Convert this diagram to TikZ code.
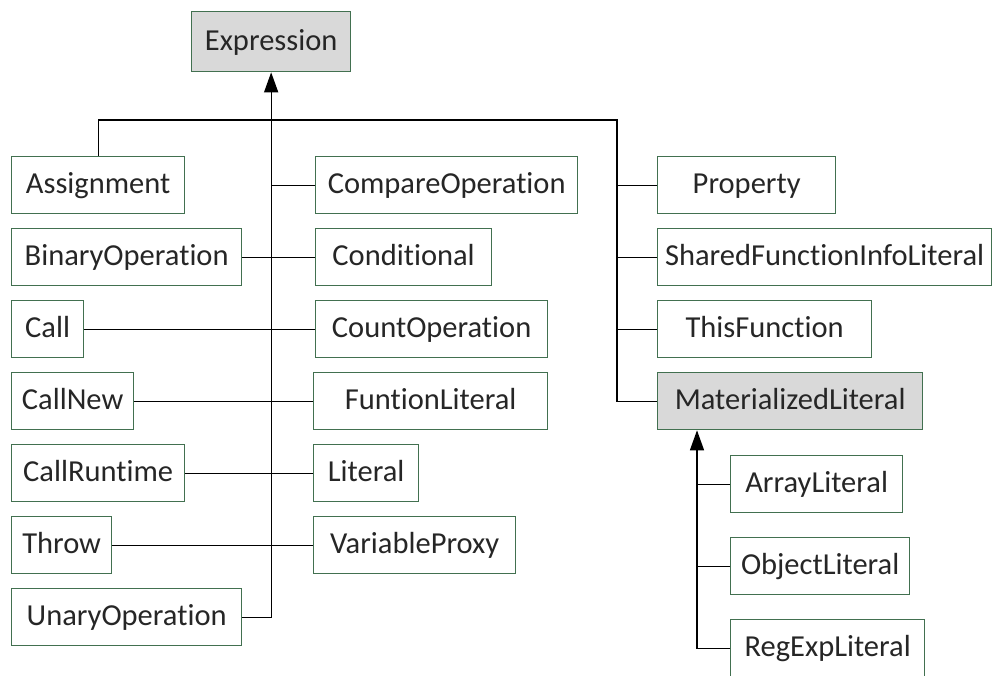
\documentclass[tikz,border=0pt]{standalone}
\usepackage{fontspec}
\setmainfont{Carlito}[RawFeature={-liga;-clig;-dlig}]
\usetikzlibrary{arrows.meta,calc}
\definecolor{boxline}{RGB}{66,112,80}
\definecolor{boxgray}{RGB}{217,217,217}
\definecolor{txt}{RGB}{38,38,38}
\begin{document}
\begin{tikzpicture}[x=1pt,y=-1pt,
  cls/.style={draw=boxline, line width=1.3pt, fill=white, anchor=north west,
    minimum height=57pt, inner sep=0pt, text=txt,
    font=\fontsize{30.5}{36}\selectfont, text height=17pt, text depth=0pt},
  abstract/.style={cls, fill=boxgray},
  link/.style={draw=black, line width=1.3pt},
  inherit/.style={link, -{Triangle[length=20pt,width=14pt]}}]
\useasboundingbox (0,0) rectangle (996,675);

% root class
\node[abstract, minimum width=159pt, minimum height=60pt] (expr) at (191,11) {Expression};

% left column
\node[cls, minimum width=173pt] (assign)  at (11,156) {Assignment};
\node[cls, minimum width=230pt] (binop)   at (11,228) {BinaryOperation};
\node[cls, minimum width=72pt]  (call)    at (11,300) {Call};
\node[cls, minimum width=122pt] (callnew) at (11,372) {CallNew};
\node[cls, minimum width=173pt] (callrt)  at (11,444) {CallRuntime};
\node[cls, minimum width=100pt] (throw)   at (11,516) {Throw};
\node[cls, minimum width=230pt] (unop)    at (11,588) {UnaryOperation};

% middle column
\node[cls, minimum width=262pt] (cmpop)   at (315,156) {CompareOperation};
\node[cls, minimum width=176pt] (cond)    at (315,228) {Conditional};
\node[cls, minimum width=232pt] (countop) at (315,300) {CountOperation};
\node[cls, minimum width=234pt] (funlit)  at (313,372) {FuntionLiteral};
\node[cls, minimum width=105pt] (literal) at (313,444) {Literal};
\node[cls, minimum width=202pt] (varprox) at (313,516) {VariableProxy};

% right column
\node[cls, minimum width=178pt] (prop)    at (657,156) {Property};
\node[cls, minimum width=334pt] (shared)  at (657,228) {SharedFunctionInfoLiteral};
\node[cls, minimum width=214pt] (thisfn)  at (657,300) {ThisFunction};
\node[abstract, minimum width=265pt] (matlit) at (657,372) {MaterializedLiteral};

% subclasses of MaterializedLiteral
\node[cls, minimum width=172pt] (arrlit)  at (730,455) {ArrayLiteral};
\node[cls, minimum width=179pt] (objlit)  at (730,537) {ObjectLiteral};
\node[cls, minimum width=194pt] (relit)   at (730,619) {RegExpLiteral};

% trunk junctions
\coordinate (rtrunk) at (617,120);
\coordinate (mtrunk) at ($(matlit.south west)+(40,0)$);

% central trunk up to Expression
\draw[inherit] (unop.east) -| (expr.south);
\draw[link] (cmpop.west) -- (cmpop.west -| expr.south);

% upper bar and right trunk
\draw[link] (assign.north) |- (rtrunk) |- (matlit.west);
\draw[link] (prop.west) -- (prop.west -| rtrunk);
\draw[link] (shared.west) -- (shared.west -| rtrunk);
\draw[link] (thisfn.west) -- (thisfn.west -| rtrunk);

% horizontal links crossing the central trunk
\draw[link] (binop.east) -- (cond.west);
\draw[link] (call.east) -- (countop.west);
\draw[link] (callnew.east) -- (funlit.west);
\draw[link] (callrt.east) -- (literal.west);
\draw[link] (throw.east) -- (varprox.west);

% MaterializedLiteral trunk
\draw[inherit] (relit.west) -| (mtrunk);
\draw[link] (arrlit.west) -- (arrlit.west -| mtrunk);
\draw[link] (objlit.west) -- (objlit.west -| mtrunk);
\end{tikzpicture}
\end{document}
